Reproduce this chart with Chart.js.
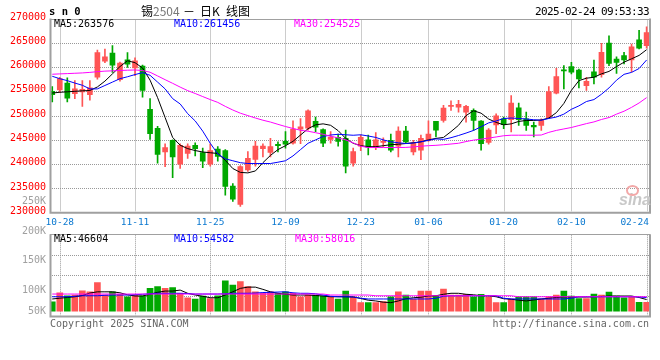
<!DOCTYPE html>
<html><head><meta charset="utf-8">
<script src="https://cdn.jsdelivr.net/npm/chart.js@4.4.1/dist/chart.umd.min.js"></script>
<style>
html,body{margin:0;padding:0;background:#fff;}
#wrap{position:relative;width:660px;height:360px;overflow:hidden;font-family:"DejaVu Sans Mono",monospace;}
canvas{position:absolute;left:0;}
.t{position:absolute;white-space:pre;font-size:10px;line-height:10px;font-family:"DejaVu Sans Mono",monospace;}
</style></head><body>
<div id="wrap">
<canvas id="pc" width="660" height="232" style="top:0px"></canvas>
<canvas id="vc" width="660" height="100" style="top:226px"></canvas>
</div>
<script>
const dates = ['10-25','10-28','10-29','10-30','10-31','11-01','11-04','11-05','11-06','11-07',
 '11-08','11-11','11-12','11-13','11-14','11-15','11-18','11-19','11-20','11-21',
 '11-22','11-25','11-26','11-27','11-28','11-29','12-02','12-03','12-04','12-05',
 '12-06','12-09','12-10','12-11','12-12','12-13','12-16','12-17','12-18','12-19',
 '12-20','12-23','12-24','12-25','12-26','12-27','12-30','12-31','01-02','01-03',
 '01-06','01-07','01-08','01-09','01-10','01-13','01-14','01-15','01-16','01-17',
 '01-20','01-21','01-22','01-23','01-24','01-27','02-05','02-06','02-07','02-10',
 '02-11','02-12','02-13','02-14','02-17','02-18','02-19','02-20','02-21','02-24'];
const tickDates = ['10-28','11-11','11-25','12-09','12-23','01-06','01-20','02-10','02-24'];
const priceTicks = [230000,235000,240000,245000,250000,255000,260000,265000,270000];

const openP = [255000,255300,256700,254500,254900,254300,257900,261200,262900,257400,
 261500,259800,260200,251300,247400,242500,244900,240000,242200,243900,
 242400,240000,243100,242800,235500,231700,238800,241000,243200,242400,
 244100,244700,244300,247200,247400,248800,247100,245100,245500,245300,
 240200,243700,245000,243500,244500,244900,243700,246800,242500,242900,
 244900,248800,249000,251900,251750,250700,251070,248850,244500,248100,
 249360,249160,251610,249360,248000,248000,249570,254610,259400,260080,
 259400,256180,259000,258440,264930,261660,262340,261450,265610,264390];
const closeP = [254300,257600,253600,255500,255400,255700,263000,262100,260400,260800,
 260600,261300,255200,246300,242000,243400,241500,243900,243700,243200,
 240600,242800,241600,235400,232800,239500,241200,243700,243700,243600,
 243800,244100,247200,247700,251000,247600,244300,245600,244700,239600,
 242600,245500,243500,245000,244700,242900,246800,244600,244400,245300,
 246200,247000,251540,252100,252300,251890,249020,244240,247000,249960,
 248110,252560,249160,248000,247650,249020,254950,258030,259200,258920,
 257560,257070,257890,263010,260760,260960,261450,264180,263910,267110];
const highP = [256000,257900,257800,257200,257200,257200,263500,263700,264400,261000,
 263000,261900,260400,253500,247800,244200,245000,244200,244200,244400,
 243300,244200,243600,243000,236000,239700,242600,244700,244200,245300,
 244600,246700,248900,249400,251200,249700,247300,246700,246200,247000,
 243300,246000,246000,246500,245400,246200,247700,247800,244900,246000,
 248900,248800,252090,253050,253120,252090,251410,249000,247340,250390,
 249700,254130,252560,250730,248670,249360,255980,259740,260300,260960,
 259600,257890,261450,264860,266430,262130,263010,264730,267540,268280];
const lowP = [252800,254800,252800,253500,251900,253200,257500,260900,258900,257100,
 259900,258200,253800,245100,240200,239500,237200,239100,241200,241700,
 239300,239600,240600,233600,232300,231300,238500,239600,241500,241500,
 242500,243300,244100,244200,247000,246700,243600,244300,243700,238200,
 239600,242800,241900,243000,243600,242500,241500,244400,241900,240900,
 244700,245600,248670,251070,250720,248670,246960,242870,244100,246290,
 247310,246630,248000,246960,245590,246960,249360,254480,255510,258590,
 255720,255170,256520,257890,260280,258700,260640,259000,263710,263910];
const ma5 = [254650,254800,254900,255000,255100,255170,255900,257100,258600,260100,
 261300,260900,259800,257300,253700,249600,245500,243900,243200,242800,
 242500,242350,242200,240800,239100,238300,238200,238600,240300,241800,
 243000,243800,244700,246000,247300,248100,248300,248000,246900,245300,
 244300,243800,243600,243600,243800,244000,244100,244250,244400,244600,
 245000,245300,245500,246700,248000,250000,251000,250500,249300,248600,
 248100,248300,248800,249000,249000,249100,249500,250600,252500,255200,
 257200,257700,257900,258600,259100,260100,261000,261700,262400,263576];
const ma10 = [258100,257600,257200,256700,256250,255500,255500,256200,256900,257600,
 258000,258450,258850,258300,256900,255500,253500,252400,250400,248900,
 246800,244300,242100,241100,240700,240300,240130,240130,240130,240130,
 240400,240700,241700,243000,244300,245000,245700,246000,246150,246050,
 245950,246050,245800,245500,245000,244600,244400,244250,244350,244600,
 244900,245200,245100,245450,245900,246400,246950,247700,248500,248900,
 249400,249500,249400,249300,249150,249050,249400,249700,250300,251300,
 252000,252900,253300,254400,255700,257300,258500,258900,259700,261456];
const ma30 = [258520,258590,258650,258720,258790,258900,259050,259160,259220,259290,
 259350,259400,259280,258930,258170,257400,256650,255870,255150,254550,
 253920,253300,252720,251900,251150,250500,250000,249500,249050,248670,
 248200,247750,247350,246970,246780,246480,246150,245750,245420,245000,
 244400,243690,243420,243420,243420,243420,243420,243450,243550,243700,
 243800,243880,244000,244150,244300,244650,244950,245150,245370,245600,
 245850,245960,245960,245960,245960,246000,246550,246950,247250,247550,
 247950,248350,248700,249200,249600,250300,250900,251700,252600,253700];
const volume = [37800,74000,62000,65000,82000,78000,115000,65000,78000,68000,
 58000,65000,62000,92000,99000,92000,95000,72000,54000,49000,
 61000,51000,62000,122000,105000,119000,99000,78000,72000,78000,
 72000,78000,72000,58000,65000,65000,61000,58000,49000,81000,
 58000,34000,34000,34000,38000,58000,78000,65000,49000,81000,
 81000,62000,89000,65000,65000,68000,58000,68000,58000,34000,
 34000,49000,58000,58000,58000,49000,58000,65000,81000,61000,
 51000,51000,69000,65000,77000,61000,54000,58000,35000,35000];
const vma5 = [49000,52000,55000,58000,63000,73000,78000,78000,78000,74000,
 66000,61000,61000,68000,76000,81000,81000,85000,72000,65000,
 60000,54000,54000,65000,78000,92000,97000,97000,88000,78000,
 72000,68000,65000,65000,65000,63000,61000,58000,58000,58000,
 57000,51000,44000,41000,36000,34000,41000,50000,54000,56000,
 61000,62000,68000,72000,72000,68000,66000,62000,62000,58000,
 50000,48000,44000,41000,45000,49000,52000,55000,57000,57000,
 57000,57000,58000,59000,61000,61000,61000,61000,55000,46604];
const vma10 = [58000,58000,58000,60000,62000,62000,62000,64000,65000,65000,
 65000,66000,68000,70000,72000,72000,72000,72000,71000,69000,
 69000,69000,69000,70000,72000,72000,72000,73000,75000,76000,
 77000,78000,74000,72000,72000,70000,65000,60000,58000,58000,
 57000,52000,49000,49000,49000,49000,49000,49000,49000,49000,
 49000,52000,60000,62000,62000,62000,62000,62000,62000,62000,
 52000,49000,49000,49000,49000,49000,49000,49000,49000,52000,
 58000,58000,58000,58000,58000,58000,58000,58000,57000,54582];
const vma30 = [69000,69000,69000,69000,69000,69000,69000,69000,69000,69000,
 69000,69000,69000,69000,69000,69000,69000,69000,69000,69000,
 69000,69000,69000,69000,69000,69000,69000,69000,69000,69000,
 69000,69000,69000,69000,69000,69000,69000,65000,65000,65000,
 65000,65000,65000,62000,62000,62000,62000,62000,62000,62000,
 62000,62000,62000,62000,62000,62000,62000,62000,62000,62000,
 62000,62000,58000,58000,58000,58000,58000,58000,58000,58000,
 58000,58000,58000,58000,58000,58000,58000,58000,58000,58016];
const priceLegend = ['MA5:263576','MA10:261456','MA30:254525'];
const volLegend = ['MA5:46604','MA10:54582','MA30:58016'];
const volAxisLabels = ['250K','200K','150K','100K','50K'];

const RED = '#ff5555', GREEN = '#00a800';
const candleColor = openP.map((o, i) => closeP[i] >= o ? RED : GREEN);
const tickIdx = tickDates.map(d => dates.indexOf(d));
const MONO = '"DejaVu Sans Mono", monospace';
const GRIDC = '#999999';

function drawDotGrid(chart) {
  const {ctx, chartArea: a} = chart;
  const xs = chart.scales.x, ys = chart.scales.y;
  ctx.save();
  ctx.strokeStyle = GRIDC;
  ctx.lineWidth = 1;
  ctx.setLineDash([1, 1]);
  ctx.beginPath();
  for (const v of tickIdx) {
    const px = Math.round(xs.getPixelForValue(v)) + 0.5;
    if (px > a.right - 2 || px < a.left + 2) continue;
    ctx.moveTo(px, a.top + 1);
    ctx.lineTo(px, a.bottom - 1);
  }
  for (const t of ys.ticks) {
    const py = Math.round(ys.getPixelForValue(t.value)) + 0.5;
    if (py < a.top + 2 || py > a.bottom - 2) continue;
    ctx.moveTo(a.left + 2, py);
    ctx.lineTo(a.right - 1, py);
  }
  ctx.stroke();
  ctx.restore();
}

const framePlugin = {
  id: 'frame',
  beforeDatasetsDraw(chart) {
    drawDotGrid(chart);
  },
  afterDraw(chart, args, opts) {
    const {ctx, chartArea: a} = chart;
    ctx.save();
    ctx.strokeStyle = '#a0a0a0';
    ctx.lineWidth = 2;
    ctx.beginPath();
    ctx.moveTo(a.left + 0.5, a.top);
    ctx.lineTo(a.left + 0.5, a.bottom);
    ctx.lineTo(a.right, a.bottom);
    ctx.lineTo(a.right, a.top);
    ctx.stroke();
    ctx.lineWidth = 1;
    ctx.beginPath();
    ctx.moveTo(a.left, Math.round(a.top) + 0.5);
    ctx.lineTo(a.right, Math.round(a.top) + 0.5);
    ctx.stroke();
    if (opts && opts.labels) {
      const xs = chart.scales.x;
      ctx.font = '9.5px ' + MONO;
      ctx.fillStyle = '#0a78d0';
      ctx.textBaseline = 'alphabetic';
      ctx.textAlign = 'left';
      tickIdx.forEach(v => {
        const label = dates[v];
        const w = ctx.measureText(label).width;
        let x = xs.getPixelForValue(v) - w / 2;
        x = Math.min(x, a.right - 1 - w);
        ctx.fillText(label, x, 225);
      });
    }
    ctx.restore();
  }
};

function xScale() {
  return {
    type: 'linear', min: -0.3, max: 79.45, offset: false,
    ticks: {display: false},
    grid: {display: false, drawTicks: false},
    border: {display: false},
    afterFit: s => { s.height = 0; }
  };
}
function lineDs(arr, color) {
  return {type: 'line', data: arr.map((v, i) => ({x: i, y: v})), borderColor: color,
    borderWidth: 1, pointRadius: 0, tension: 0, order: 0, fill: false};
}

new Chart(document.getElementById('pc'), {
  type: 'bar',
  data: {
    datasets: [
      lineDs(ma30, '#ff00ff'), lineDs(ma10, '#0000ff'), lineDs(ma5, '#000000'),
      {type: 'bar', data: lowP.map((l, i) => ({x: i, y: [l, highP[i]]})), backgroundColor: candleColor,
       barThickness: 1, grouped: false, order: 2, borderWidth: 0},
      {type: 'bar', data: openP.map((o, i) => ({x: i, y: [o, closeP[i]]})), backgroundColor: candleColor,
       barThickness: 5, grouped: false, order: 1, borderWidth: 0, minBarLength: 1}
    ]
  },
  options: {
    responsive: false, animation: false, devicePixelRatio: 1, events: [],
    layout: {padding: {left: 0, right: 10, top: 18.5, bottom: 19.3}},
    plugins: {legend: {display: false}, tooltip: {enabled: false}, frame: {labels: true}},
    scales: {
      x: xScale(),
      y: {
        min: 230000, max: 270000,
        afterBuildTicks: s => { s.ticks = priceTicks.map(v => ({value: v})); },
        ticks: {color: '#ff0000', font: {family: MONO, size: 10}, padding: 4, labelOffset: -1.5,
                callback: v => String(v)},
        grid: {display: false, drawTicks: false},
        border: {display: false},
        afterFit: s => { s.width = 50; }
      }
    }
  },
  plugins: [framePlugin]
});

new Chart(document.getElementById('vc'), {
  type: 'bar',
  data: {
    datasets: [
      lineDs(vma30, '#ff00ff'), lineDs(vma10, '#0000ff'), lineDs(vma5, '#000000'),
      {type: 'bar', data: volume.map((v, i) => ({x: i, y: v})), backgroundColor: candleColor,
       barThickness: 6, grouped: false, order: 1, borderWidth: 0}
    ]
  },
  options: {
    responsive: false, animation: false, devicePixelRatio: 1, events: [],
    layout: {padding: {left: 0, right: 10, top: 8.3, bottom: 9.5}},
    plugins: {legend: {display: false}, tooltip: {enabled: false}, frame: {labels: false}},
    scales: {
      x: xScale(),
      y: {
        min: -22000, max: 311000,
        afterBuildTicks: s => { s.ticks = [0, 1, 2, 3, 4].map(k => ({value: s.min + (s.max - s.min) * k / 4})); },
        ticks: {display: false},
        grid: {display: false, drawTicks: false},
        border: {display: false},
        afterFit: s => { s.width = 50; }
      }
    }
  },
  plugins: [framePlugin]
});

const wrap = document.getElementById('wrap');
function addText(txt, o) {
  const d = document.createElement('div');
  d.className = 't';
  d.textContent = txt;
  for (const k in o) d.style[k] = o[k];
  wrap.appendChild(d);
  return d;
}
addText('s n 0', {left: '49px', top: '6.4px', fontSize: '10.5px', lineHeight: '10.5px', fontWeight: 'bold', color: '#000'});
const cjk = {fontFamily: '"Noto Sans CJK SC", sans-serif', fontSize: '12px', lineHeight: '12px', top: '4.5px', color: '#000'};
addText('锡', Object.assign({left: '141px'}, cjk));
addText('2504', Object.assign({}, cjk, {left: '153px', color: '#777'}));
addText('－', Object.assign({left: '183px'}, cjk));
addText('日K', Object.assign({left: '200px'}, cjk));
addText('线图', Object.assign({left: '226px'}, cjk));
addText('2025-02-24 09:53:33', {right: '11px', top: '6.2px', fontSize: '11px', lineHeight: '11px', letterSpacing: '-0.62px', color: '#000'});
const legColors = ['#000000', '#0000ff', '#ff00ff'];
const legX = [54, 174, 294];
priceLegend.forEach((s, k) => addText(s, {left: legX[k] + 'px', top: '18.6px', color: legColors[k]}));
volLegend.forEach((s, k) => addText(s, {left: (legX[k] + (k === 2 ? 1 : 0)) + 'px', top: '233.9px', color: legColors[k]}));
const volLabelY = [201, 230.5, 260, 289.7, 311];
volAxisLabels.forEach((s, k) => addText(s, {right: '614px', top: (volLabelY[k] - 4.8) + 'px', color: '#a0a0a0', textAlign: 'right'}));
addText('Copyright 2025 SINA.COM', {left: '50px', top: '318.9px', color: '#666'});
addText('http://finance.sina.com.cn', {right: '11px', top: '318.9px', color: '#666'});
addText('sina', {left: '619px', top: '191.5px', fontFamily: '"Liberation Sans", sans-serif', fontSize: '16px', lineHeight: '16px', fontStyle: 'italic', fontWeight: 'bold', color: '#c8c8c8'});
const eye = document.createElement('div');
eye.style.cssText = 'position:absolute;left:626px;top:185px;width:9px;height:7px;border:2px solid #f2a8a8;border-radius:50%;';
wrap.appendChild(eye);
</script>
</body></html>
